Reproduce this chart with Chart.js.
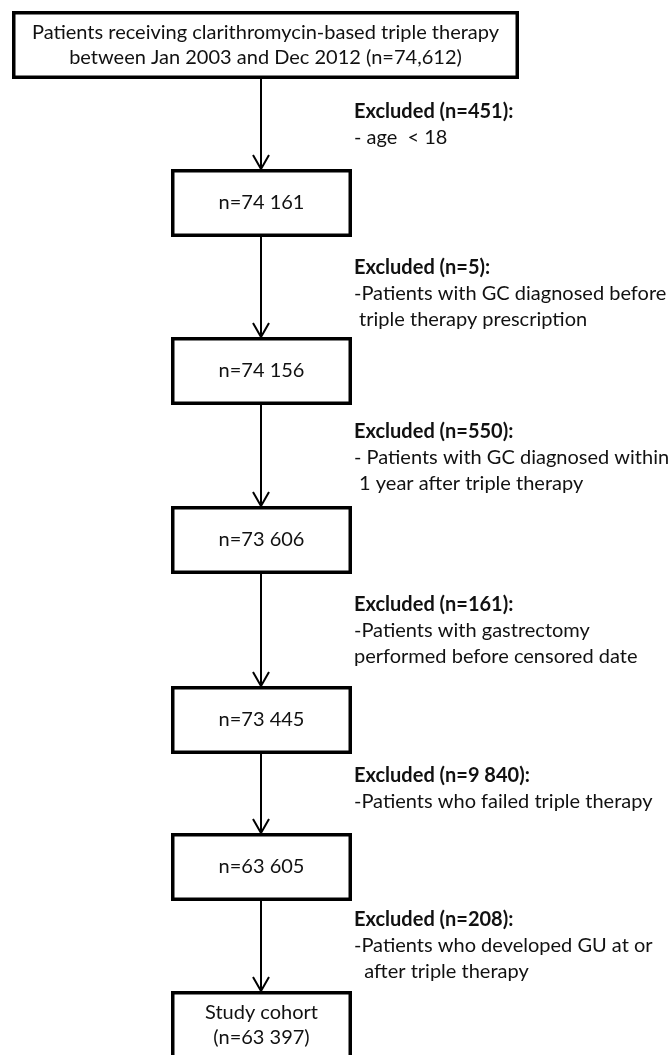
<!DOCTYPE html>
<html>
<head>
<meta charset="utf-8">
<script src="https://cdn.jsdelivr.net/npm/chart.js@4"></script>
<style>
  html, body { margin: 0; padding: 0; background: #fff; }
  #wrap { width: 670px; height: 1055px; }
</style>
</head>
<body>
<div id="wrap"><canvas id="flow" width="670" height="1055"></canvas></div>
<script>
// datos del diagrama de flujo
const stageCounts = [74612, 74161, 74156, 73606, 73445, 63605, 63397];
const excludedCounts = [451, 5, 550, 161, 9840, 208];
const excludedReasons = [
    ['- age  < 18'],
    ['-Patients with GC diagnosed before', ' triple therapy prescription'],
    ['- Patients with GC diagnosed within', ' 1 year after triple therapy'],
    ['-Patients with gastrectomy', 'performed before censored date'],
    ['-Patients who failed triple therapy'],
    ['-Patients who developed GU at or', '  after triple therapy']
];

// posiciones (unidades de la escala = px)
const stageY = [45, 203, 371, 540, 720, 867, 1025];
const exclY = [112, 268, 432, 605, 776, 920];
const arrowX = 261;

function fmt(n, sep) {
    return String(n).replace(/\B(?=(\d{3})+(?!\d))/g, sep);
}

function stageText(i) {
    const n = stageCounts[i];
    if (i === 0) return ['Patients receiving clarithromycin-based triple therapy',
                         'between Jan 2003 and Dec 2012 (n=' + fmt(n, ',') + ')'];
    if (i === stageCounts.length - 1) return ['Study cohort', '(n=' + fmt(n, ' ') + ')'];
    return ['n=' + fmt(n, ' ')];
}

const FONT = 'Lato, "Open Sans", sans-serif';
const SIZE = 20;

const flowPlugin = {
    id: 'flow',
    afterDatasetsDraw(chart) {
        const ctx = chart.ctx;
        const xs = chart.scales.x, ys = chart.scales.y;
        const px = v => xs.getPixelForValue(v);
        const py = v => ys.getPixelForValue(v);
        const lw = 3.5;

        // cajas
        const boxes = stageY.map((y, i) => {
            const left = i === 0 ? 12 : 171;
            const right = i === 0 ? 519 : 352;
            return { l: px(left), r: px(right), t: py(y - 34), b: py(y + 34), cy: py(y) };
        });

        ctx.save();
        ctx.strokeStyle = '#000';
        ctx.fillStyle = '#111';

        // flechas
        ctx.lineWidth = 2;
        for (let i = 0; i < boxes.length - 1; i++) {
            const x = px(arrowX);
            const y0 = boxes[i].b, y1 = boxes[i + 1].t;
            ctx.beginPath();
            ctx.moveTo(x, y0);
            ctx.lineTo(x, y1);
            ctx.moveTo(x - 8, y1 - 14);
            ctx.lineTo(x, y1);
            ctx.lineTo(x + 8, y1 - 14);
            ctx.stroke();
        }

        // bordes y textos de las cajas
        boxes.forEach((b, i) => {
            ctx.fillStyle = '#fff';
            ctx.fillRect(b.l, b.t, b.r - b.l, b.b - b.t);
            ctx.lineWidth = lw;
            ctx.strokeRect(b.l + lw / 2, b.t + lw / 2, b.r - b.l - lw, b.b - b.t - lw);
            const lines = stageText(i);
            ctx.fillStyle = '#111';
            ctx.font = SIZE + 'px ' + FONT;
            ctx.textAlign = 'center';
            ctx.textBaseline = 'middle';
            const cx = (b.l + b.r) / 2;
            const step = 24.5;
            lines.forEach((t, k) => {
                ctx.fillText(t, cx, b.cy + (k - (lines.length - 1) / 2) * step);
            });
        });

        // textos de exclusión
        ctx.textAlign = 'left';
        ctx.textBaseline = 'middle';
        excludedCounts.forEach((n, i) => {
            const x = px(354);
            let y = py(exclY[i]);
            ctx.font = 'bold ' + SIZE + 'px ' + FONT;
            ctx.fillText('Excluded (n=' + fmt(n, ' ') + '):', x, y);
            ctx.font = SIZE + 'px ' + FONT;
            excludedReasons[i].forEach(t => {
                y += 26;
                ctx.fillText(t, x, y);
            });
        });
        ctx.restore();
    }
};

const ctx = document.getElementById('flow').getContext('2d');
const chart = new Chart(ctx, {
    type: 'scatter',
    data: {
        datasets: [{
            label: 'stages',
            data: stageY.map(y => ({ x: arrowX, y: y })),
            pointRadius: 0
        }]
    },
    options: {
        responsive: false,
        animation: false,
        layout: { padding: 0 },
        scales: {
            x: { type: 'linear', min: 0, max: 670, display: false },
            y: { type: 'linear', min: 0, max: 1055, reverse: true, display: false }
        },
        plugins: {
            legend: { display: false },
            tooltip: { enabled: false }
        }
    },
    plugins: [flowPlugin]
});
</script>
</body>
</html>
